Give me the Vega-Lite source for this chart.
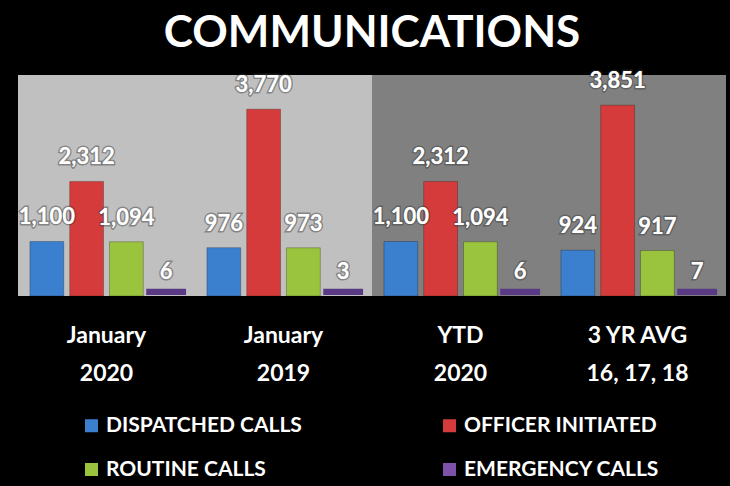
{
  "$schema": "https://vega.github.io/schema/vega-lite/v6.json",
  "width": 708,
  "height": 223,
  "autosize": "none",
  "padding": {"left": 18, "top": 73, "right": 4, "bottom": 190},
  "background": "black",
  "title": {
    "text": "COMMUNICATIONS",
    "color": "white",
    "font": "Lato",
    "fontSize": 44,
    "fontWeight": "bold",
    "anchor": "middle",
    "frame": "group",
    "offset": 14
  },
  "config": {
    "view": {"stroke": null},
    "font": "Lato"
  },
  "datasets": {
    "panels": [
      {"category": "January|2020", "shade": "light"},
      {"category": "January|2019", "shade": "light"},
      {"category": "YTD|2020", "shade": "dark"},
      {"category": "3 YR AVG|16, 17, 18", "shade": "dark"}
    ],
    "calls": [
      {"category": "January|2020", "series": "DISPATCHED CALLS", "value": 1100},
      {"category": "January|2020", "series": "OFFICER INITIATED", "value": 2312},
      {"category": "January|2020", "series": "ROUTINE CALLS", "value": 1094},
      {"category": "January|2020", "series": "EMERGENCY CALLS", "value": 6},
      {"category": "January|2019", "series": "DISPATCHED CALLS", "value": 976},
      {"category": "January|2019", "series": "OFFICER INITIATED", "value": 3770},
      {"category": "January|2019", "series": "ROUTINE CALLS", "value": 973},
      {"category": "January|2019", "series": "EMERGENCY CALLS", "value": 3},
      {"category": "YTD|2020", "series": "DISPATCHED CALLS", "value": 1100},
      {"category": "YTD|2020", "series": "OFFICER INITIATED", "value": 2312},
      {"category": "YTD|2020", "series": "ROUTINE CALLS", "value": 1094},
      {"category": "YTD|2020", "series": "EMERGENCY CALLS", "value": 6},
      {"category": "3 YR AVG|16, 17, 18", "series": "DISPATCHED CALLS", "value": 924},
      {"category": "3 YR AVG|16, 17, 18", "series": "OFFICER INITIATED", "value": 3851},
      {"category": "3 YR AVG|16, 17, 18", "series": "ROUTINE CALLS", "value": 917},
      {"category": "3 YR AVG|16, 17, 18", "series": "EMERGENCY CALLS", "value": 7}
    ]
  },
  "layer": [
    {
      "data": {"name": "panels"},
      "mark": {"type": "bar"},
      "encoding": {
        "x": {
          "field": "category",
          "type": "nominal",
          "sort": ["January|2020", "January|2019", "YTD|2020", "3 YR AVG|16, 17, 18"],
          "scale": {"paddingInner": 0, "paddingOuter": 0},
          "axis": {
            "title": null,
            "domain": false,
            "ticks": false,
            "labelAngle": 0,
            "labelExpr": "split(datum.value, '|')",
            "labelFont": "Lato",
            "labelFontSize": 23,
            "labelFontWeight": "bold",
            "labelColor": "white",
            "labelLineHeight": 38,
            "labelBaseline": "alphabetic",
            "labelPadding": 46
          }
        },
        "y": {"datum": 4460, "type": "quantitative", "scale": {"domain": [0, 4460]}, "axis": null},
        "y2": {"datum": 0},
        "fill": {
          "field": "shade",
          "type": "nominal",
          "scale": {"domain": ["light", "dark"], "range": ["#c0c0c0", "#808080"]},
          "legend": null
        }
      }
    },
    {
      "data": {"name": "calls"},
      "transform": [{"filter": "datum.series !== 'EMERGENCY CALLS'"}],
      "mark": {"type": "bar", "stroke": "#00000040", "strokeWidth": 1},
      "encoding": {
        "x": {"field": "category", "type": "nominal", "sort": ["January|2020", "January|2019", "YTD|2020", "3 YR AVG|16, 17, 18"]},
        "xOffset": {
          "field": "series",
          "type": "nominal",
          "sort": ["DISPATCHED CALLS", "OFFICER INITIATED", "ROUTINE CALLS", "EMERGENCY CALLS"],
          "scale": {"domain": ["DISPATCHED CALLS", "OFFICER INITIATED", "ROUTINE CALLS", "EMERGENCY CALLS"], "paddingInner": 0.15, "paddingOuter": 0.3}
        },
        "y": {"field": "value", "type": "quantitative"},
        "color": {
          "field": "series",
          "type": "nominal",
          "scale": {
            "domain": ["DISPATCHED CALLS", "OFFICER INITIATED", "ROUTINE CALLS", "EMERGENCY CALLS"],
            "range": ["#3b7fcf", "#d63b3b", "#9bc43e", "#7d52a8"]
          },
          "legend": {
            "title": null,
            "orient": "none",
            "direction": "horizontal",
            "legendX": 63,
            "legendY": 342,
            "columns": 2,
            "columnPadding": 137,
            "rowPadding": 22,
            "symbolType": "square",
            "symbolSize": 169,
            "symbolStrokeWidth": 0,
            "labelFont": "Lato",
            "labelFontSize": 21,
            "labelFontWeight": "bold",
            "labelColor": "white",
            "labelOffset": 4,
            "labelLimit": 400
          }
        }
      }
    },
    {
      "data": {"name": "calls"},
      "transform": [{"filter": "datum.series === 'EMERGENCY CALLS'"}],
      "mark": {"type": "bar", "stroke": "#5a3a85", "strokeWidth": 6, "yOffset": -4},
      "encoding": {
        "x": {"field": "category", "type": "nominal", "sort": ["January|2020", "January|2019", "YTD|2020", "3 YR AVG|16, 17, 18"]},
        "xOffset": {"field": "series", "type": "nominal"},
        "y": {"field": "value", "type": "quantitative"},
        "color": {"field": "series", "type": "nominal"}
      }
    },
    {
      "data": {"name": "calls"},
      "mark": {"type": "text", "baseline": "alphabetic", "dy": -17, "font": "Lato", "fontSize": 22, "fontWeight": "bold", "fill": "white", "stroke": "#3a3a3a", "strokeWidth": 3, "strokeOpacity": 0.45},
      "encoding": {
        "x": {"field": "category", "type": "nominal", "sort": ["January|2020", "January|2019", "YTD|2020", "3 YR AVG|16, 17, 18"]},
        "xOffset": {"field": "series", "type": "nominal"},
        "y": {"field": "value", "type": "quantitative"},
        "text": {"field": "value", "type": "quantitative", "format": ","}
      }
    },
    {
      "data": {"name": "calls"},
      "mark": {"type": "text", "baseline": "alphabetic", "dy": -17, "font": "Lato", "fontSize": 22, "fontWeight": "bold", "fill": "white"},
      "encoding": {
        "x": {"field": "category", "type": "nominal", "sort": ["January|2020", "January|2019", "YTD|2020", "3 YR AVG|16, 17, 18"]},
        "xOffset": {"field": "series", "type": "nominal"},
        "y": {"field": "value", "type": "quantitative"},
        "text": {"field": "value", "type": "quantitative", "format": ","}
      }
    }
  ]
}
